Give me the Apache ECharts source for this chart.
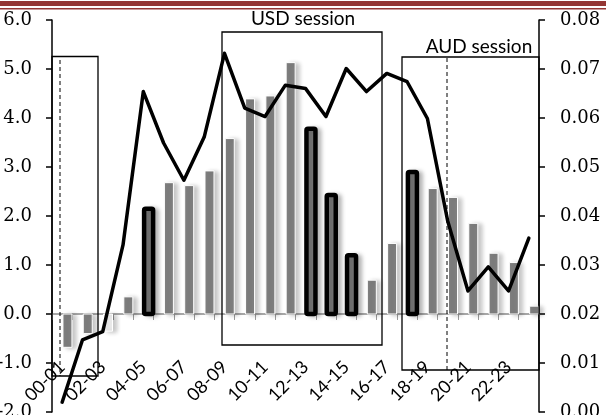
<!DOCTYPE html>
<html>
<head>
<meta charset="utf-8">
<script src="https://cdn.jsdelivr.net/npm/echarts@6/dist/echarts.min.js"></script>
<style>
  html, body { margin: 0; padding: 0; background: #fff; }
  #chart { width: 606px; height: 415px; }
</style>
</head>
<body>
<div id="chart"></div>
<script>
// ---- data ----
var hours = ['00-01','01-02','02-03','03-04','04-05','05-06','06-07','07-08','08-09','09-10','10-11','11-12',
             '12-13','13-14','14-15','15-16','16-17','17-18','18-19','19-20','20-21','21-22','22-23','23-24'];
var barValues = [-0.68, -0.40, -0.35, 0.35, 2.15, 2.68, 2.62, 2.92, 3.58, 4.39, 4.45, 5.13,
                 3.78, 2.43, 1.20, 0.69, 1.44, 2.90, 2.56, 2.38, 1.85, 1.24, 1.05, 0.16];
var lineValues = [0.002, 0.0147, 0.0164, 0.0341, 0.0654, 0.0549, 0.0473, 0.0561, 0.0732, 0.0620, 0.0603, 0.0667,
                  0.0660, 0.0603, 0.0701, 0.0654, 0.0691, 0.0674, 0.0599, 0.0390, 0.0247, 0.0296, 0.0247, 0.0355];
var outlinedHours = [4, 12, 13, 14, 17];
var faintHours = [2];
var leftTicks = { min: -2, max: 6, step: 1 };
var rightTicks = { min: 0, max: 0.08, step: 0.01 };
var sessionLabels = ['USD session', 'AUD session'];

var BAR_W = 9, BAR_SHIFT = 5.3;

var chart = echarts.init(document.getElementById('chart'), null, { renderer: 'canvas' });

function renderBar(params, api) {
  var i = api.value(0);
  var v = api.value(1);
  var top = api.coord([i, v]);
  var base = api.coord([i, 0]);
  var cx = top[0] + BAR_SHIFT;
  var y0 = Math.min(top[1], base[1]);
  var h = Math.abs(base[1] - top[1]);
  var outlined = outlinedHours.indexOf(i) >= 0;
  var faint = faintHours.indexOf(i) >= 0;
  var style = {
    fill: faint ? '#ececec' : '#808080',
    stroke: outlined ? '#000' : '#ffffff',
    lineWidth: outlined ? 4.5 : 1,
    lineJoin: 'round',
    shadowColor: 'rgba(0,0,0,0.22)',
    shadowBlur: 4,
    shadowOffsetX: 4,
    shadowOffsetY: 1
  };
  return {
    type: 'rect',
    shape: { x: cx - BAR_W / 2, y: y0, width: BAR_W, height: h, r: outlined ? 1.5 : 0 },
    style: style
  };
}

var option = {
  animation: false,
  backgroundColor: '#fff',
  grid: { left: 52, right: 67, top: 20, bottom: 3, containLabel: false, outerBoundsMode: 'none' },
  xAxis: [{
    type: 'category',
    data: hours,
    boundaryGap: true,
    axisLine: { show: true, onZero: true, lineStyle: { color: '#8a8a8a', width: 1.5 } },
    axisTick: { show: true, interval: 0, length: 6, lineStyle: { color: '#9a9a9a', width: 1 } },
    axisLabel: { show: false },
    splitLine: { show: false }
  }, {
    type: 'category',
    data: hours,
    boundaryGap: true,
    position: 'bottom',
    offset: -52,
    axisLine: { show: false, onZero: false },
    axisTick: { show: false },
    axisLabel: {
      show: true, interval: 1, rotate: 45, margin: 4, hideOverlap: false,
      fontFamily: 'Lato', fontSize: 18, color: '#000'
    },
    splitLine: { show: false }
  }],
  yAxis: [{
    type: 'value',
    min: leftTicks.min, max: leftTicks.max, interval: leftTicks.step,
    position: 'left',
    axisLine: { show: true, onZero: false, lineStyle: { color: '#000', width: 1.5 } },
    axisTick: { show: true, length: 6, lineStyle: { color: '#000', width: 1.5 } },
    axisLabel: {
      margin: 20, fontFamily: 'DejaVu Serif', fontSize: 18, color: '#000',
      formatter: function (v) { return v.toFixed(1); }
    },
    splitLine: { show: false }
  }, {
    type: 'value',
    min: rightTicks.min, max: rightTicks.max, interval: rightTicks.step,
    position: 'right',
    axisLine: { show: true, onZero: false, lineStyle: { color: '#000', width: 1.5 } },
    axisTick: { show: true, length: 6, lineStyle: { color: '#000', width: 1.5 } },
    axisLabel: {
      margin: 21, fontFamily: 'DejaVu Serif', fontSize: 18, color: '#000',
      formatter: function (v) { return v.toFixed(2); }
    },
    splitLine: { show: false }
  }],
  series: [{
    name: 'bars',
    type: 'custom',
    xAxisIndex: 0,
    yAxisIndex: 0,
    renderItem: renderBar,
    encode: { x: 0, y: 1 },
    data: barValues.map(function (v, i) { return [i, v]; }),
    clip: false,
    z: 2
  }, {
    name: 'line',
    type: 'line',
    xAxisIndex: 0,
    yAxisIndex: 1,
    data: lineValues,
    symbol: 'none',
    lineStyle: { color: '#000', width: 3.5, join: 'round', cap: 'round' },
    z: 5
  }],
  graphic: [
    // header rule
    { type: 'rect', shape: { x: 0, y: 1, width: 606, height: 5 }, style: { fill: '#943634' }, z: 100 },
    { type: 'rect', shape: { x: 0, y: 8, width: 606, height: 1.5 }, style: { fill: '#943634' }, z: 100 },
    // left box
    { type: 'rect', shape: { x: 52, y: 56.5, width: 46, height: 319.5 },
      style: { fill: 'none', stroke: '#000', lineWidth: 1.3 }, z: 50 },
    { type: 'line', shape: { x1: 60, y1: 60, x2: 60, y2: 376 },
      style: { stroke: '#000', lineWidth: 1, lineDash: [4, 3] }, z: 50 },
    // USD session box
    { type: 'rect', shape: { x: 222, y: 32, width: 160, height: 313 },
      style: { fill: 'none', stroke: '#000', lineWidth: 1.3 }, z: 50 },
    { type: 'text', x: 303, y: 19,
      style: { text: sessionLabels[0], fontFamily: 'Lato', fontSize: 19, fill: '#000',
               textAlign: 'center', textVerticalAlign: 'middle' }, z: 60 },
    // AUD session box
    { type: 'rect', shape: { x: 402, y: 57, width: 137, height: 313 },
      style: { fill: 'none', stroke: '#000', lineWidth: 1.3 }, z: 50 },
    { type: 'line', shape: { x1: 447, y1: 58, x2: 447, y2: 370 },
      style: { stroke: '#000', lineWidth: 1, lineDash: [4, 3] }, z: 50 },
    { type: 'text', x: 479, y: 47,
      style: { text: sessionLabels[1], fontFamily: 'Lato', fontSize: 19, fill: '#000',
               textAlign: 'center', textVerticalAlign: 'middle' }, z: 60 }
  ]
};
chart.setOption(option);
</script>
</body>
</html>
